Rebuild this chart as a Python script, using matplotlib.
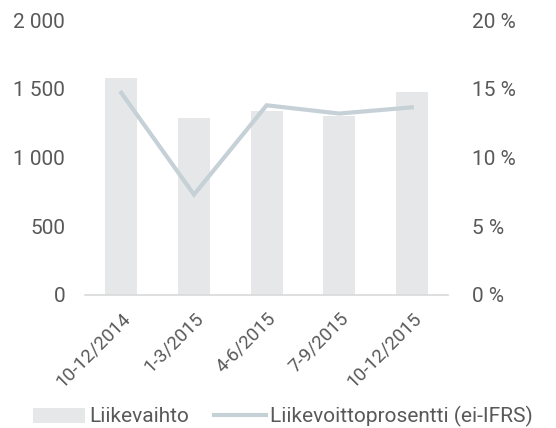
import matplotlib
matplotlib.use('Agg')
import matplotlib.pyplot as plt
from matplotlib.ticker import FuncFormatter

# data
kaudet = ['10-12/2014', '1-3/2015', '4-6/2015', '7-9/2015', '10-12/2015']
liikevaihto = [1580, 1290, 1335, 1305, 1480]
liikevoitto_pct = [14.7, 7.3, 13.8, 13.2, 13.65]
y_ticks = [0, 500, 1000, 1500, 2000]
pct_ticks = [0, 5, 10, 15, 20]

BAR_COL = '#e6e7e8'
LINE_COL = '#c5d1d7'
TEXT_COL = '#595959'

plt.rcParams['font.family'] = ['Roboto', 'DejaVu Sans']

fig = plt.figure(figsize=(5.56, 4.28), dpi=100)
ax = fig.add_axes([0.153, 0.311, 0.653, 0.642])
ax2 = ax.twinx()

x = list(range(len(kaudet)))
bars = ax.bar(x, liikevaihto, width=0.44, color=BAR_COL, label='Liikevaihto', zorder=1)
line, = ax2.plot(x, liikevoitto_pct, color=LINE_COL, lw=3.0, solid_joinstyle='miter',
                 label='Liikevoittoprosentti (ei-IFRS)')

ax.set_xlim(-0.5, 4.5)
ax.set_ylim(0, 2000)
ax2.set_ylim(0, 20)
ax.set_yticks(y_ticks)
ax2.set_yticks(pct_ticks)
ax.yaxis.set_major_formatter(FuncFormatter(lambda v, p: f'{int(v):,}'.replace(',', ' ')))
ax2.yaxis.set_major_formatter(FuncFormatter(lambda v, p: f'{int(v)} %'))

for a in (ax, ax2):
    for s in a.spines.values():
        s.set_visible(False)
    a.tick_params(length=0, colors=TEXT_COL, labelsize=15)
ax.spines['bottom'].set_visible(True)
ax.spines['bottom'].set_color('#d9d9d9')
ax.spines['bottom'].set_linewidth(1.2)
ax.tick_params(axis='y', pad=14.4)
ax2.tick_params(axis='y', pad=17.3)

ax.set_xticks(x)
ax.set_xticklabels(kaudet, rotation=45, ha='right', va='top', rotation_mode='anchor',
                   fontsize=13.5, color=TEXT_COL)
ax.tick_params(axis='x', pad=10)

leg = fig.legend([bars, line], ['Liikevaihto', 'Liikevoittoprosentti (ei-IFRS)'],
                 loc='lower left', bbox_to_anchor=(0.059, 0.002), ncol=2, frameon=False,
                 fontsize=15, handlelength=2.5, handleheight=0.72, columnspacing=1.2,
                 handletextpad=0.2, borderpad=0, borderaxespad=0, labelcolor=TEXT_COL)

fig.savefig('out.png', dpi=100)
